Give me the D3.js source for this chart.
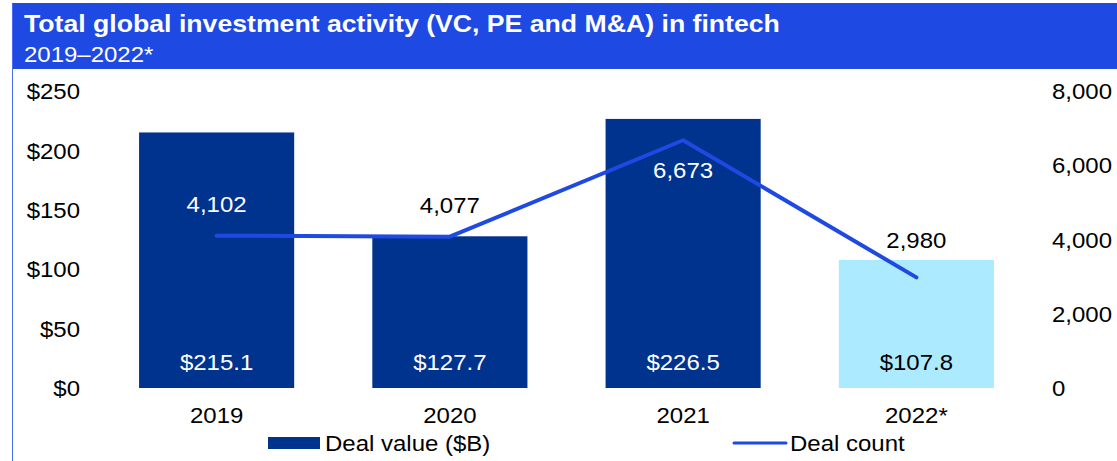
<!DOCTYPE html>
<html>
<head>
<meta charset="utf-8">
<script src="https://cdn.jsdelivr.net/npm/d3@7"></script>
<style>
  body { margin: 0; background: #fff; }
  svg { display: block; font-family: "Liberation Sans", Arial, sans-serif; }
</style>
</head>
<body>
<div id="chart"></div>
<script>
// data
var years = ["2019", "2020", "2021", "2022*"];
var dealValue = [215.1, 127.7, 226.5, 107.8];
var dealCount = [4102, 4077, 6673, 2980];
var valueTicks = [0, 50, 100, 150, 200, 250];
var countTicks = [0, 2000, 4000, 6000, 8000];

var title = "Total global investment activity (VC, PE and M&A) in fintech";
var subtitle = "2019\u20132022*";

// styling
var navy = "#00338d", light = "#aceaff", blue = "#1e49e2";
var barColors = [navy, navy, navy, light];
var countLabelDy = [-31, -31, 30, -37];
var fs = 22;

var W = 1117, H = 461;
var svg = d3.select("#chart").append("svg")
    .attr("width", W)
    .attr("height", H);

// header band + left border
svg.append("rect")
    .attr("x", 12).attr("y", 3)
    .attr("width", W - 12).attr("height", 66)
    .attr("fill", blue);
svg.append("line")
    .attr("x1", 12.5).attr("x2", 12.5)
    .attr("y1", 3).attr("y2", H)
    .attr("stroke", "#4a6cf0").attr("stroke-width", 1);

svg.append("text")
    .attr("class", "wide")
    .attr("x", 24).attr("y", 32)
    .attr("fill", "#fff")
    .attr("font-size", 24).attr("font-weight", "bold")
    .text(title);
svg.append("text")
    .attr("class", "wide")
    .attr("x", 24).attr("y", 62)
    .attr("fill", "#fff")
    .attr("font-size", fs)
    .text(subtitle);

// scales
var x = d3.scaleBand()
    .domain(years)
    .range([100, 1033])
    .paddingInner(0.335)
    .paddingOuter(0.1675);
var y = d3.scaleLinear().domain([0, 250]).range([388, 91]);
var y2 = d3.scaleLinear().domain([0, 8000]).range([388, 91]);

// axes
var yAxis = svg.append("g")
    .attr("transform", "translate(80,0)")
    .call(d3.axisLeft(y).tickValues(valueTicks).tickSize(0).tickPadding(0)
        .tickFormat(function(d) { return "$" + d; }));
var y2Axis = svg.append("g")
    .attr("transform", "translate(1052,0)")
    .call(d3.axisRight(y2).tickValues(countTicks).tickSize(0).tickPadding(0)
        .tickFormat(d3.format(",")));
var xAxis = svg.append("g")
    .attr("transform", "translate(0,415)")
    .call(d3.axisBottom(x).tickSize(0).tickPadding(0));

[yAxis, y2Axis, xAxis].forEach(function(a) {
    a.select(".domain").remove();
    a.selectAll("text")
        .attr("class", "wide")
        .attr("font-family", "Liberation Sans, Arial, sans-serif")
        .attr("font-size", fs)
        .attr("fill", "#000");
});
yAxis.selectAll("text").attr("dy", "0.35em");
y2Axis.selectAll("text").attr("dy", "0.35em");
xAxis.selectAll("text").attr("dy", "0.35em").attr("y", 0);

// bars
var rows = years.map(function(yr, i) {
    return {year: yr, value: dealValue[i], count: dealCount[i], color: barColors[i], dy: countLabelDy[i]};
});

svg.selectAll(".bar")
    .data(rows)
    .enter().append("rect")
        .attr("class", "bar")
        .attr("x", function(d) { return x(d.year); })
        .attr("width", x.bandwidth())
        .attr("y", function(d) { return y(d.value); })
        .attr("height", function(d) { return y(0) - y(d.value); })
        .attr("fill", function(d) { return d.color; });

svg.selectAll(".vlabel")
    .data(rows)
    .enter().append("text")
        .attr("class", "vlabel wide")
        .attr("x", function(d) { return x(d.year) + x.bandwidth() / 2; })
        .attr("y", y(0) - 26)
        .attr("dy", "0.35em")
        .attr("text-anchor", "middle")
        .attr("font-size", fs)
        .attr("fill", function(d) { return d.color == navy ? "#fff" : "#000"; })
        .text(function(d) { return "$" + d3.format(".1f")(d.value); });

// deal count line
var valueline = d3.line()
    .x(function(d) { return x(d.year) + x.bandwidth() / 2; })
    .y(function(d) { return y2(d.count); });

svg.append("path")
    .datum(rows)
    .attr("fill", "none")
    .attr("stroke", blue)
    .attr("stroke-width", 4)
    .attr("stroke-linecap", "round")
    .attr("stroke-linejoin", "round")
    .attr("d", valueline);

svg.selectAll(".clabel")
    .data(rows)
    .enter().append("text")
        .attr("class", "clabel wide")
        .attr("x", function(d) { return x(d.year) + x.bandwidth() / 2; })
        .attr("y", function(d) { return y2(d.count) + d.dy; })
        .attr("dy", "0.35em")
        .attr("text-anchor", "middle")
        .attr("font-size", fs)
        .attr("fill", function(d) {
            var inside = y2(d.count) + d.dy > y(d.value) + 10;
            return (inside && d.color == navy) ? "#fff" : "#000";
        })
        .text(function(d) { return d3.format(",")(d.count); });

// legend
var legend = svg.append("g");
legend.append("rect")
    .attr("x", 268).attr("y", 437)
    .attr("width", 52).attr("height", 12)
    .attr("fill", navy);
legend.append("text")
    .attr("class", "wide")
    .attr("x", 325).attr("y", 443)
    .attr("dy", "0.35em")
    .attr("font-size", fs)
    .text("Deal value ($B)");
legend.append("line")
    .attr("x1", 734).attr("x2", 786)
    .attr("y1", 443).attr("y2", 443)
    .attr("stroke", blue)
    .attr("stroke-width", 3)
    .attr("stroke-linecap", "round");
legend.append("text")
    .attr("class", "wide")
    .attr("x", 790).attr("y", 443)
    .attr("dy", "0.35em")
    .attr("font-size", fs)
    .text("Deal count");

// the reference type is set a little wider than Liberation Sans
svg.selectAll("text.wide").each(function() {
    var k = this.getAttribute("font-weight") == "bold" ? 1.11 : 1.09;
    var len = this.getComputedTextLength();
    d3.select(this)
        .attr("textLength", len * k)
        .attr("lengthAdjust", "spacingAndGlyphs");
});
</script>
</body>
</html>
